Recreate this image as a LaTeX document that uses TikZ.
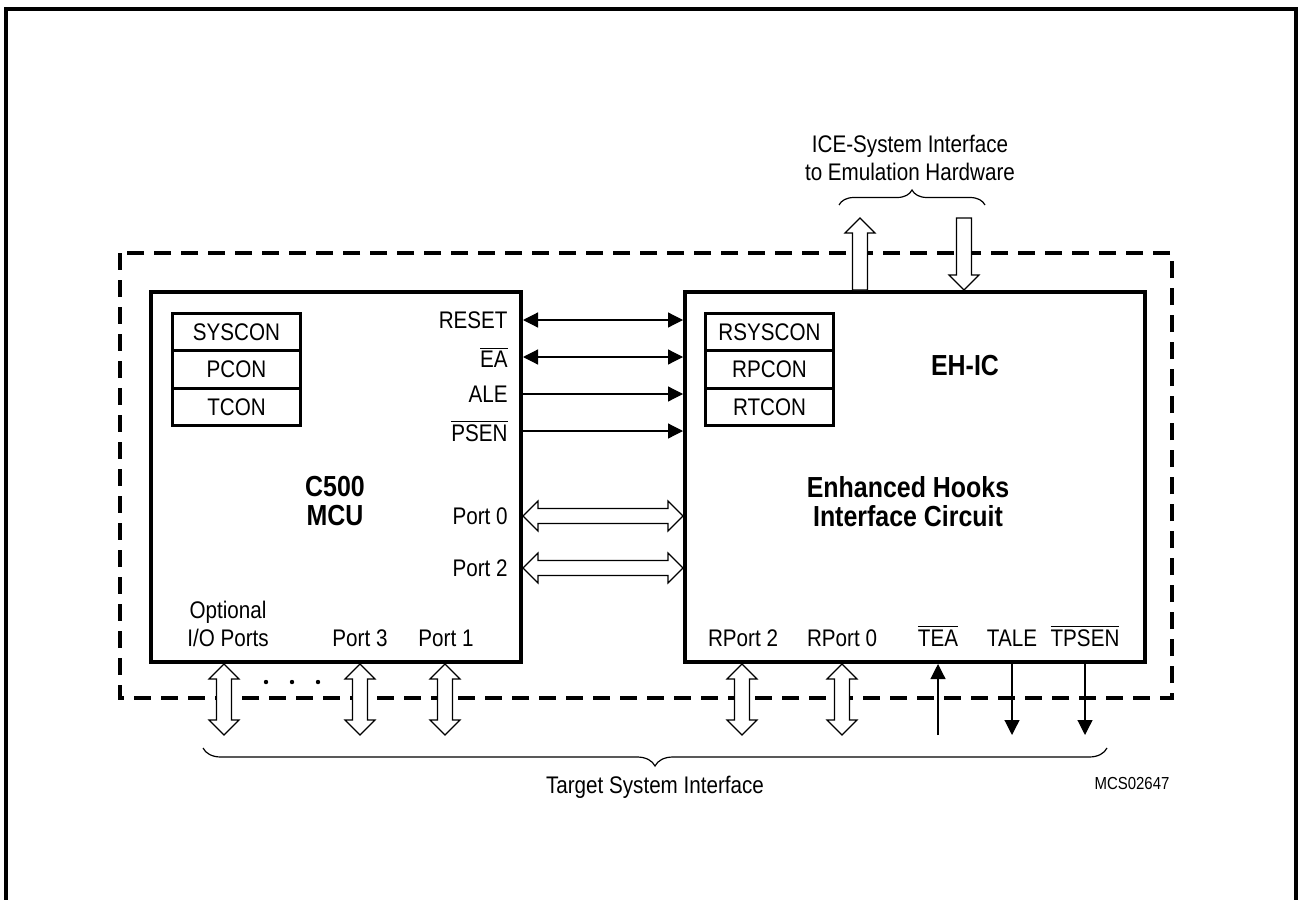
\documentclass[tikz,border=0pt]{standalone}
\usepackage{fontspec}
\setmainfont{Liberation Sans}[FakeStretch=0.86]
\usetikzlibrary{arrows.meta,calc,decorations.pathreplacing}

\newcommand\hdarr[2]{%
  \filldraw[hol] (#1) -- ++(15,-15) -- ++(0,7.5) -- ($(#2)+(-15,-7.5)$) -- ++(0,-7.5) -- (#2)
    -- ++(-15,15) -- ++(0,-7.5) -- ($(#1)+(15,7.5)$) -- ++(0,7.5) -- cycle;}
\newcommand\vdarr[2]{%
  \filldraw[hol] (#1) -- ++(15,15) -- ++(-7.5,0) -- ($(#2)+(7.5,-15)$) -- ++(7.5,0) -- (#2)
    -- ++(-15,-15) -- ++(7.5,0) -- ($(#1)+(-7.5,15)$) -- ++(-7.5,0) -- cycle;}
% single hollow arrow: #1 base (tail), #2 tip (vertical)
\newcommand\upharr[2]{%
  \filldraw[hol] ($(#1)+(-7.5,0)$) -- ($(#2)+(-7.5,15)$) -- ++(-7.5,0) -- (#2) -- ++(15,15)
    -- ++(-7.5,0) -- ($(#1)+(7.5,0)$) -- cycle;}
\newcommand\dnharr[2]{%
  \filldraw[hol] ($(#1)+(-7.5,0)$) -- ($(#2)+(-7.5,-15)$) -- ++(-7.5,0) -- (#2) -- ++(15,-15)
    -- ++(-7.5,0) -- ($(#1)+(7.5,0)$) -- cycle;}

\begin{document}
\begin{tikzpicture}[x=0.5pt,y=-0.5pt,
  every node/.style={font=\fontsize{12}{14}\selectfont, inner sep=0pt},
  mainbox/.style={draw, line width=2pt, anchor=north west, minimum height=185pt},
  regbox/.style={draw, line width=1.5pt, minimum width=64pt, minimum height=18.67pt, anchor=north west},
  sig/.style={line width=0.6pt, -{Triangle[length=7.5pt,width=7.5pt]}},
  sigtwo/.style={line width=0.6pt, {Triangle[length=7.5pt,width=7.5pt]}-{Triangle[length=7.5pt,width=7.5pt]}},
  hol/.style={draw=black, fill=white, line width=0.6pt, line join=miter},
  lbl/.style={anchor=east},
  blbl/.style={anchor=base},
  boldtxt/.style={font=\fontsize{14.5}{14.5}\selectfont\bfseries, align=center},
  bracestyle/.style={line width=0.6pt, decorate}
]
\useasboundingbox (0,0) rectangle (1299,899);

% outer frame (open at the bottom, beyond the picture)
\draw[line width=2pt] (6,905) -- (6,9) -- (1296,9) -- (1296,905);

% dashed system border
\draw[line width=1.9pt, dash pattern=on 8.5pt off 5pt] (120,253) rectangle (1172,698);

% main blocks
\node[mainbox, minimum width=185pt] (mcu) at (149,290) {};
\node[mainbox, minimum width=230pt] (ehic) at (683,290) {};

% register stacks
\node[regbox] (syscon) at (171,312) {SYSCON};
\node[regbox] (pcon) at (171,349.33) {PCON};
\node[regbox] (tcon) at (171,386.67) {TCON};
\node[regbox] (rsyscon) at (704,312) {RSYSCON};
\node[regbox] (rpcon) at (704,349.33) {RPCON};
\node[regbox] (rtcon) at (704,386.67) {RTCON};

% block titles
\node[boldtxt] (mcutitle) at (335,501) {C500\\MCU};
\node[boldtxt] (ehtitle) at (965,366) {EH-IC};
\node[boldtxt] (ehname) at (908,502) {Enhanced Hooks\\Interface Circuit};

% signal rows
\coordinate (yreset) at (0,320);
\coordinate (yea) at (0,357);
\coordinate (yale) at (0,394);
\coordinate (ypsen) at (0,431);
\coordinate (yp0) at (0,516);
\coordinate (yp2) at (0,568);

\node[lbl] (lreset) at (508,320) {RESET};
\node[lbl] (lea) at (508,357) {\(\overline{\mbox{EA}}\)};
\node[lbl] (lale) at (508,394) {ALE};
\node[lbl] (lpsen) at (508,431) {\(\overline{\mbox{PSEN}}\)};
\node[lbl] (lp0) at (508,516) {Port 0};
\node[lbl] (lp2) at (508,568) {Port 2};

\draw[sigtwo] (mcu.east |- yreset) -- (ehic.west |- yreset);
\draw[sigtwo] (mcu.east |- yea) -- (ehic.west |- yea);
\draw[sig] (mcu.east |- yale) -- (ehic.west |- yale);
\draw[sig] (mcu.east |- ypsen) -- (ehic.west |- ypsen);

\coordinate (p0a) at (mcu.east |- yp0);
\coordinate (p0b) at (ehic.west |- yp0);
\coordinate (p2a) at (mcu.east |- yp2);
\coordinate (p2b) at (ehic.west |- yp2);
\hdarr{p0a}{p0b}
\hdarr{p2a}{p2b}

% bottom labels of MCU
\node[blbl] (lopt) at (228,618) {Optional};
\node[blbl] (lio) at (228,646) {I/O Ports};
\node[blbl] (lp3) at (360,646) {Port 3};
\node[blbl] (lp1) at (446,646) {Port 1};

% bottom labels of EH-IC
\node[blbl] (lrp2) at (743,646) {RPort 2};
\node[blbl] (lrp0) at (842,646) {RPort 0};
\node[blbl] (ltea) at (938,646) {\(\overline{\mbox{TEA}}\)};
\node[blbl] (ltale) at (1012,646) {TALE};
\node[blbl] (ltpsen) at (1085,646) {\(\overline{\mbox{TPSEN}}\)};

% free ends below the system
\coordinate (eio) at (224,735);
\coordinate (ep3) at (360,735);
\coordinate (ep1) at (445,735);
\coordinate (erp2) at (742,735);
\coordinate (erp0) at (842,735);
\coordinate (etea) at (938,735);
\coordinate (etale) at (1012,735);
\coordinate (etpsen) at (1085,735);

\coordinate (sio) at (mcu.south -| eio);
\coordinate (sp3) at (mcu.south -| ep3);
\coordinate (sp1) at (mcu.south -| ep1);
\coordinate (srp2) at (ehic.south -| erp2);
\coordinate (srp0) at (ehic.south -| erp0);

\vdarr{sio}{eio}
\vdarr{sp3}{ep3}
\vdarr{sp1}{ep1}
\vdarr{srp2}{erp2}
\vdarr{srp0}{erp0}

\draw[sig] (etea) -- (ehic.south -| etea);
\draw[sig] (ehic.south -| etale) -- (etale);
\draw[sig] (ehic.south -| etpsen) -- (etpsen);

% dots
\foreach \xx in {266,292,318} \fill (\xx,682) circle (1.1pt);

% ICE interface arrows
\coordinate (iceup) at (860,218);
\coordinate (icedn) at (964,218);
\coordinate (iceupb) at (ehic.north -| iceup);
\coordinate (icednb) at (ehic.north -| icedn);
\upharr{iceupb}{iceup}
\dnharr{icedn}{icednb}

% braces and captions
\draw[bracestyle, decoration={brace, amplitude=7.5pt}] (839,205) -- (985,205);
\node[align=center, font=\fontsize{12}{14}\selectfont] (icetxt) at (910,158) {ICE-System Interface\\to Emulation Hardware};

\draw[bracestyle, decoration={brace, amplitude=9pt}] (1107,748) -- (203,748);
\node (tsi) at (655,787) {Target System Interface};

\node[font=\fontsize{8.7}{10}\selectfont] (code) at (1132,783) {MCS02647};
\end{tikzpicture}
\end{document}
